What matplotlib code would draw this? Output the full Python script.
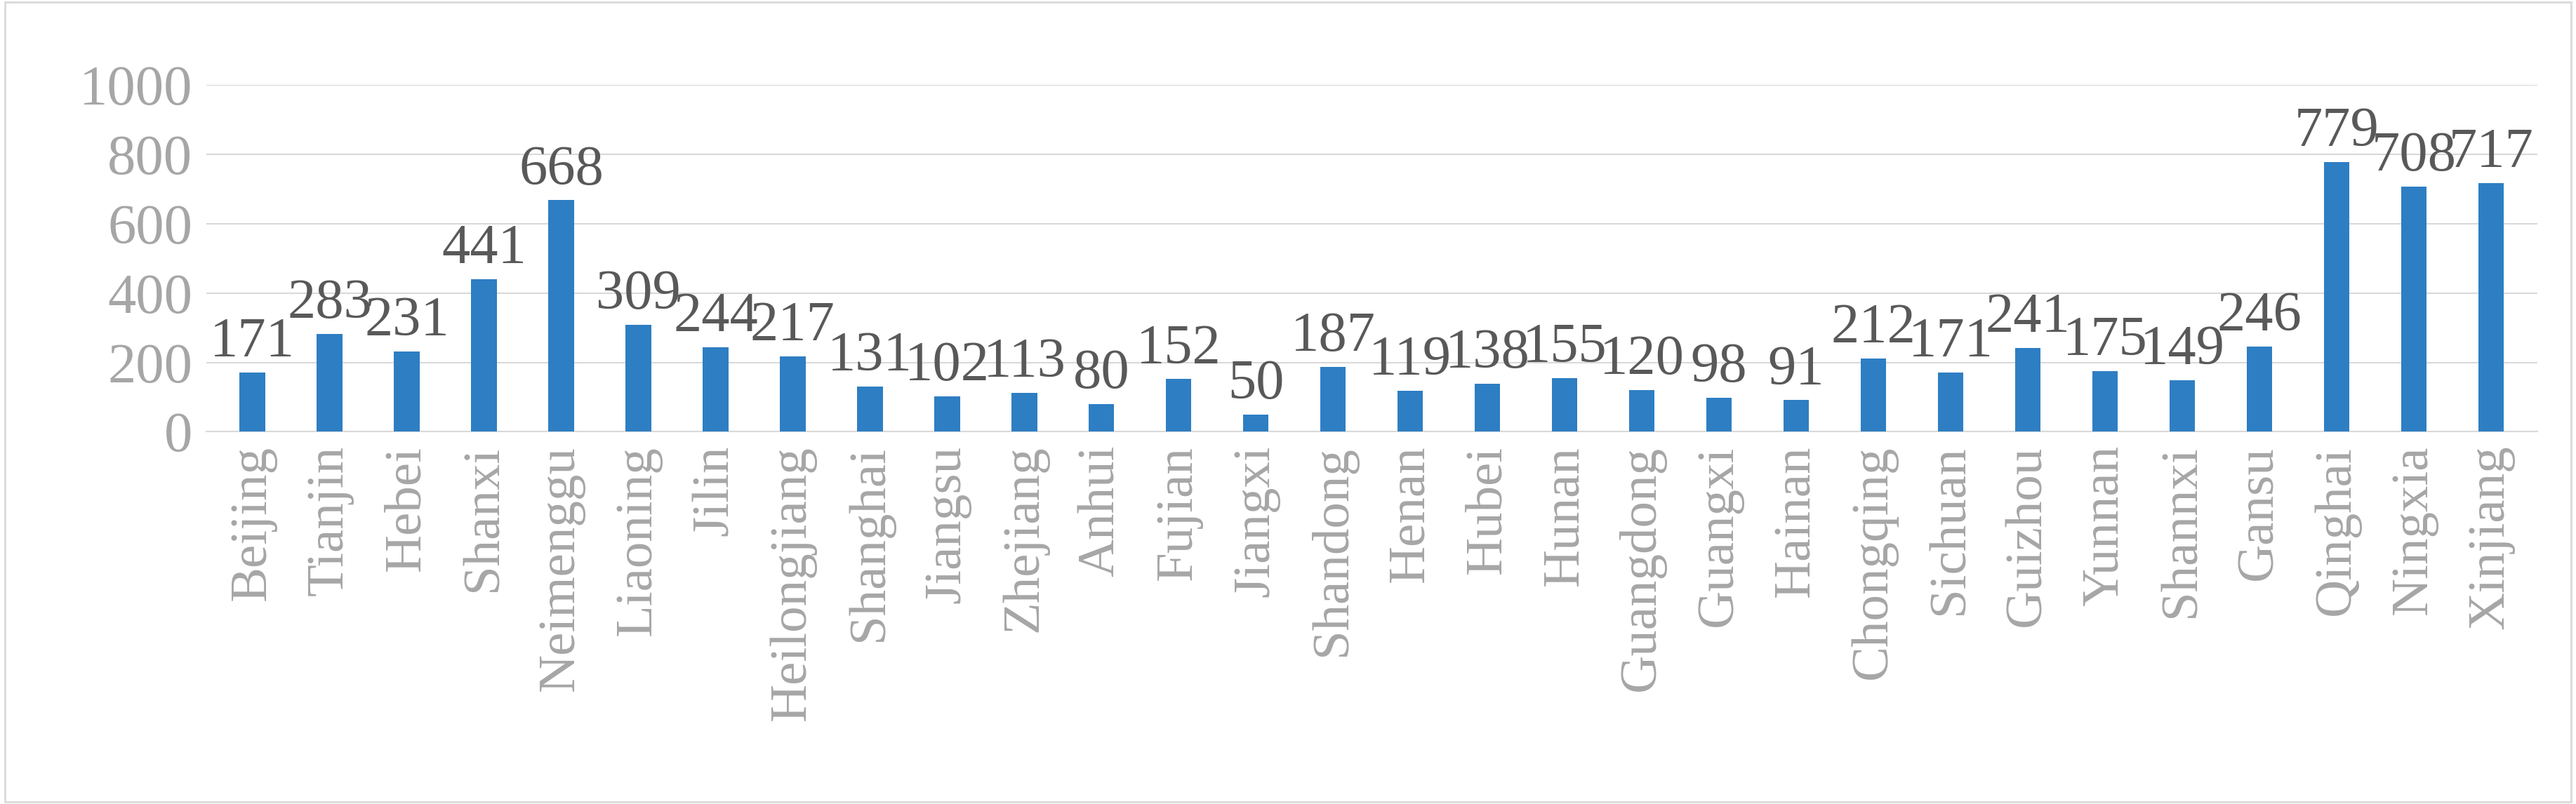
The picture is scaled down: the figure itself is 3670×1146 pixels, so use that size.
import matplotlib
matplotlib.use("Agg")
import matplotlib.pyplot as plt

provinces = ["Beijing","Tianjin","Hebei","Shanxi","Neimenggu","Liaoning","Jilin","Heilongjiang",
             "Shanghai","Jiangsu","Zhejiang","Anhui","Fujian","Jiangxi","Shandong","Henan","Hubei",
             "Hunan","Guangdong","Guangxi","Hainan","Chongqing","Sichuan","Guizhou","Yunnan",
             "Shannxi","Gansu","Qinghai","Ningxia","Xinjiang"]
values = [171,283,231,441,668,309,244,217,131,102,113,80,152,50,187,119,138,155,120,98,91,
          212,171,241,175,149,246,779,708,717]
yticks = [0,200,400,600,800,1000]

plt.rcParams['font.family'] = ['Liberation Serif', 'DejaVu Serif']
gray = '#A6A6A6'
fig = plt.figure(figsize=(36.7, 11.46), dpi=100)
ax = fig.add_axes([0.08, 0.463, 0.905, 0.431])
x = range(len(provinces))
ax.bar(x, values, width=0.33, color='#2E7EC3', zorder=3)
for xi, v in zip(x, values):
    ax.text(xi, v + 12, str(v), ha='center', va='bottom', fontsize=58, color='#595959')
ax.set_ylim(0, 1000)
ax.set_xlim(-0.6, len(provinces) - 0.4)
ax.set_yticks(yticks)
ax.set_yticklabels([str(t) for t in yticks], fontsize=58, color=gray)
ax.set_xticks(list(x))
ax.set_xticklabels(provinces, rotation=90, fontsize=54, color=gray)
ax.yaxis.grid(True, color='#D9D9D9', linewidth=1.5, zorder=0)
for s in ['top', 'right', 'left']:
    ax.spines[s].set_visible(False)
ax.spines['bottom'].set_color('#D9D9D9')
ax.spines['bottom'].set_linewidth(1.5)
ax.tick_params(axis='both', length=0, pad=14)
border = plt.Rectangle((0.002, 0.003), 0.996, 0.994, transform=fig.transFigure,
                       fill=False, edgecolor='#D9D9D9', linewidth=2)
fig.patches.append(border)
fig.savefig("out.png", dpi=100)
